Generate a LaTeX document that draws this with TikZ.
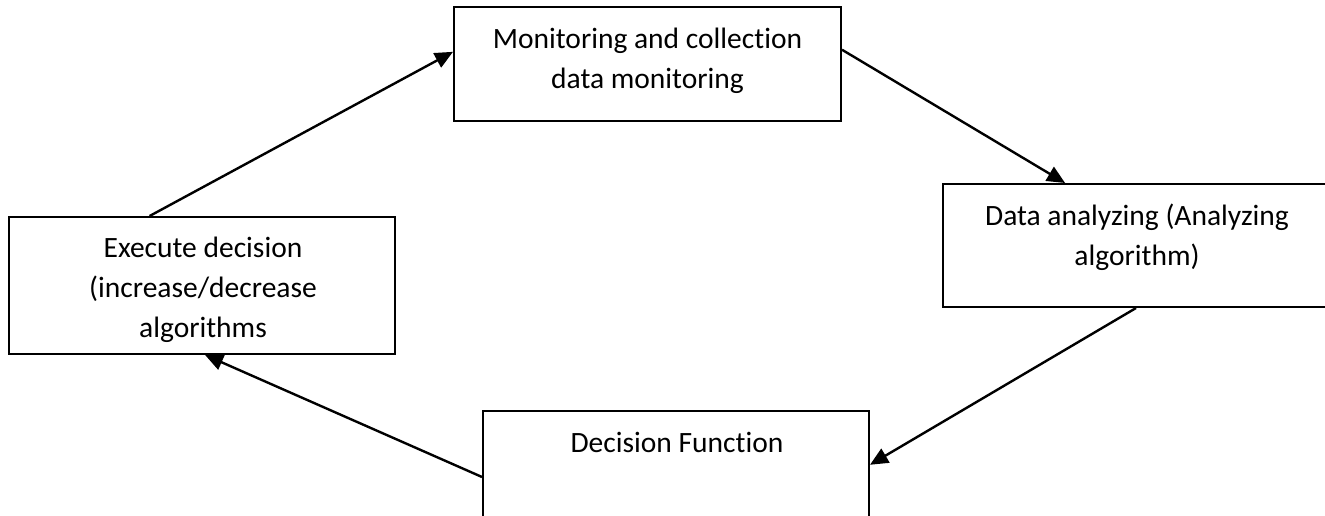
\documentclass[tikz,border=0pt]{standalone}
\usepackage{fontspec}
\setmainfont{Carlito}[Ligatures=NoCommon]
\usetikzlibrary{arrows.meta,calc}

\tikzset{
  stagebox/.style={draw=black, line width=2pt, fill=none, inner sep=0pt},
  % multi-line labels are placed by the baseline of their last line
  stagetext/.style={inner sep=0pt, align=center, anchor=base,
    font=\fontsize{29.5}{40}\selectfont},
  flow/.style={line width=2.4pt, -{Triangle[length=18pt,width=16pt]}},
}

\begin{document}
\begin{tikzpicture}[x=1pt,y=-1pt]
  \useasboundingbox (0,0) rectangle (1325,516);

  % stage boxes
  \node[stagebox, minimum width=387pt, minimum height=114pt] (mon) at (647.5,64) {};
  \node[stagebox, minimum width=390pt, minimum height=123pt] (ana) at (1138,245.5) {};
  \node[stagebox, minimum width=386pt, minimum height=137pt] (dec) at (676,479.5) {};
  \node[stagebox, minimum width=386pt, minimum height=137pt] (exe) at (202,285.5) {};

  % stage labels
  \node[stagetext] (monT) at (647.5,89) {Monitoring and collection\\data monitoring};
  \node[stagetext] (anaT) at (1137,265) {Data analyzing (Analyzing\\algorithm)};
  \node[stagetext] (decT) at (677,452) {Decision Function};
  \node[stagetext] (exeT) at (203,337) {Execute decision\\(increase/decrease\\algorithms};

  % connection points on the box borders
  \coordinate (monW) at ($(mon.north west)!0.395!(mon.south west)$);
  \coordinate (monE) at ($(mon.north east)!0.377!(mon.south east)$);
  \coordinate (anaN) at ($(ana.north west)!0.314!(ana.north east)$);
  \coordinate (anaS) at ($(ana.south west)!0.495!(ana.south east)$);
  \coordinate (decE) at ($(dec.north east)!0.394!(dec.south east)$);
  \coordinate (decW) at ($(dec.north west)!0.482!(dec.south west)$);
  \coordinate (exeS) at ($(exe.south west)!0.508!(exe.south east)$);
  \coordinate (exeN) at ($(exe.north west)!0.365!(exe.north east)$);

  % cycle connectors
  \draw[flow] (exeN) -- (monW);
  \draw[flow] (monE) -- (anaN);
  \draw[flow] (anaS) -- (decE);
  \draw[flow] (decW) -- (exeS);
\end{tikzpicture}
\end{document}
